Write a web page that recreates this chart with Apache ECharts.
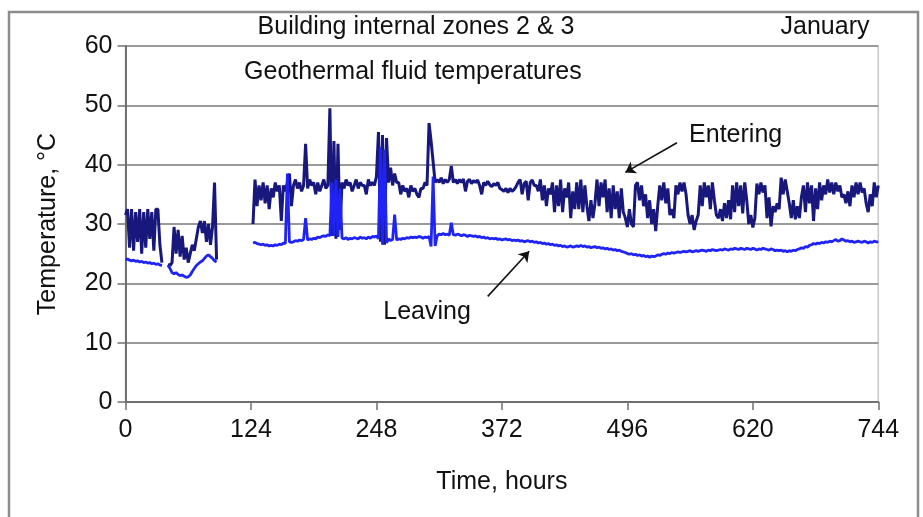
<!DOCTYPE html>
<html>
<head>
<meta charset="utf-8">
<script src="https://cdn.jsdelivr.net/npm/echarts@6/dist/echarts.min.js"></script>
<style>
  html, body { margin: 0; padding: 0; background: #fff; }
  #chart { width: 923px; height: 517px; }
</style>
</head>
<body>
<div id="chart"></div>
<script>
// Geothermal fluid temperatures, building internal zones 2 & 3, January (hourly log)
const HOUR_TICKS = [0, 124, 248, 372, 496, 620, 744];
const STEP_HOURS = 2;
const SEGMENT_START = [0, 42, 126];

// Segment 1: hours 0-36
const enteringA = [31.5, 32.5, 26.0, 32.5, 25.5, 32.0, 27.0, 32.5, 25.0, 32.0,
  26.0, 32.5, 27.5, 32.0, 25.5, 32.5, 32.5, 26.5, 23.5];
const leavingA = [24.0, 24.1, 23.9, 23.8, 23.9, 23.7, 23.8, 23.6, 23.7, 23.5,
  23.6, 23.4, 23.5, 23.3, 23.4, 23.2, 23.3, 23.1, 23.0];

// Segment 2: hours 42-90
const enteringB = [23.2, 23.0, 23.5, 29.5, 25.0, 29.0, 24.5, 28.0, 24.0, 26.0,
  23.5, 25.0, 26.5, 25.5, 27.5, 29.5, 30.5, 28.5, 30.5, 27.0,
  30.0, 26.5, 29.5, 37.0, 24.0];
const leavingB = [23.0, 22.5, 21.8, 21.6, 21.8, 21.5, 21.3, 21.4, 21.2, 21.0,
  21.1, 21.4, 22.0, 22.5, 23.0, 23.3, 23.6, 23.8, 24.2, 24.6,
  24.8, 24.5, 24.2, 23.8, 23.6];

// Segment 3: hours 126-744
const enteringC = [
  30.0, 37.5, 33.0, 36.5, 34.0, 37.0, 33.5, 36.5, 32.5, 36.0,
  34.5, 37.0, 35.5, 36.5, 30.5, 36.5, 35.5, 37.0, 38.5, 33.0,
  36.5, 37.5, 36.0, 37.0, 35.5, 36.5, 43.5, 36.0, 37.5, 36.5,
  37.0, 35.0, 37.0, 35.5, 36.5, 37.5, 36.0, 36.5, 49.5, 28.0,
  44.0, 27.5, 43.5, 29.0, 37.0, 36.0, 37.5, 36.5, 37.0, 35.5,
  36.5, 37.5, 36.0, 37.0, 36.5, 36.5, 35.0, 37.5, 36.5, 37.0,
  36.5, 38.0, 45.5, 27.0, 45.0, 26.5, 44.5, 37.0, 39.5, 36.5,
  38.5, 37.0, 37.0, 35.0, 36.5, 35.5, 36.0, 34.5, 36.5, 35.5,
  36.0, 35.0, 34.5, 36.0, 36.0, 37.0, 36.5, 47.0, 44.0, 40.5,
  37.0, 37.5, 37.0, 37.8, 36.8, 37.5, 37.0, 37.5, 39.8, 37.0,
  37.5, 36.8, 37.5, 37.0, 37.6, 35.5, 37.2, 37.5, 36.8, 37.3,
  37.0, 37.4, 36.5, 35.0, 37.0, 36.5, 37.2, 36.6, 36.3, 36.8,
  36.5, 37.0, 36.0, 35.8, 35.5, 36.0, 35.3, 36.0, 35.5, 35.8,
  36.3, 37.0, 37.5, 35.0, 36.8, 37.2, 34.0, 37.0, 37.4, 36.5,
  36.5, 35.5, 37.5, 34.0, 36.5, 33.0, 36.0, 35.0, 37.0, 32.0,
  36.5, 33.0, 37.5, 32.0, 36.0, 34.5, 37.0, 31.0, 35.5, 32.5,
  37.0, 32.5, 37.5, 32.0, 36.5, 33.0, 30.5, 34.0, 31.0, 33.5,
  37.5, 33.0, 37.0, 34.5, 37.5, 32.0, 36.0, 31.0, 36.5, 32.5,
  35.5, 31.0, 36.0, 32.0, 31.0, 29.5, 32.5, 30.0, 29.5, 36.5,
  37.0, 34.0, 36.5, 33.0, 35.0, 31.0, 34.0, 30.0, 32.5, 28.8,
  33.0, 36.5, 34.0, 37.0, 33.5, 36.0, 31.5, 32.5, 31.0, 36.5,
  35.0, 37.0, 35.5, 37.0, 35.0, 31.5, 30.0, 31.5, 29.0, 30.5,
  31.5, 36.5, 33.0, 37.0, 34.5, 36.5, 32.5, 37.0, 34.0, 31.5,
  31.0, 32.5, 30.5, 33.5, 31.0, 34.0, 30.8, 36.5, 32.0, 37.0,
  33.0, 36.5, 31.8, 37.0, 34.0, 30.0, 31.5, 29.4, 31.0, 36.8,
  35.0, 37.0, 35.3, 36.5, 31.0, 34.5, 29.6, 33.0, 32.0, 33.5,
  32.5, 37.8, 35.0, 37.5, 35.5, 33.5, 31.0, 34.0, 30.8, 33.0,
  31.0, 34.5, 36.5, 32.0, 37.0, 33.5, 36.5, 30.5, 36.0, 32.5,
  37.0, 34.0, 36.5, 35.0, 37.5, 35.3, 37.0, 35.0, 37.0, 35.5,
  36.5, 34.5, 35.0, 33.5, 35.5, 33.0, 36.5, 34.5, 37.0, 35.0,
  37.0, 35.3, 36.0, 33.5, 32.0, 35.0, 33.0, 37.0, 34.5, 36.5
];
const leavingC = [
  26.8, 26.9, 26.7, 26.6, 26.5, 26.6, 26.4, 26.5, 26.3, 26.4,
  26.3, 26.5, 26.4, 26.6, 26.5, 26.8, 26.7, 38.5, 27.0, 26.9,
  27.0, 27.2, 27.1, 27.3, 27.2, 27.4, 31.0, 27.3, 27.5, 27.4,
  27.6, 27.5, 27.8, 27.7, 27.9, 28.0, 27.9, 28.2, 28.0, 37.0,
  28.0, 37.5, 27.8, 36.0, 27.6, 27.5, 27.7, 27.4, 27.6, 27.5,
  27.7, 27.6, 27.5, 27.8, 27.6, 27.7, 27.5, 27.8, 27.6, 27.9,
  27.8, 28.0, 27.5, 43.0, 26.5, 42.5, 26.8, 27.5, 27.2, 27.4,
  31.6, 27.3, 27.5, 27.4, 27.6, 27.5, 27.7, 27.6, 27.8, 27.7,
  27.8, 27.7, 27.9, 27.8, 27.6, 27.8, 27.7, 27.9, 26.2, 38.0,
  26.3, 28.0, 28.3, 28.2, 28.4, 28.2, 28.3, 28.1, 30.2, 28.2,
  28.1, 28.3, 28.2, 28.0, 28.2, 28.1, 27.9, 28.1, 28.0, 27.9,
  28.0, 27.8, 27.9, 27.7, 27.8, 27.6, 27.7, 27.5, 27.6, 27.5,
  27.6, 27.4, 27.5, 27.3, 27.4, 27.5, 27.3, 27.4, 27.2, 27.3,
  27.2, 27.3, 27.1, 27.2, 27.0, 27.1, 27.2, 27.0, 27.1, 26.9,
  27.0, 26.8, 26.9, 26.7, 26.8, 26.6, 26.7, 26.5, 26.6, 26.4,
  26.5, 26.3, 26.4, 26.2, 26.3, 26.1, 26.2, 26.3, 26.1, 26.2,
  26.3, 26.2, 26.4, 26.2, 26.3, 26.1, 26.2, 26.0, 26.1, 26.2,
  26.0, 26.1, 25.9, 26.0, 25.8, 25.9, 25.7, 25.8, 25.6, 25.7,
  25.5, 25.6, 25.4, 25.3, 25.2, 25.0, 24.9, 25.0, 24.8, 24.9,
  24.7, 24.8, 24.6, 24.7, 24.5, 24.6, 24.4, 24.6, 24.5, 24.6,
  24.8, 24.7, 24.9, 25.0, 24.9, 25.1, 25.0, 25.2, 25.1, 25.2,
  25.3, 25.2, 25.3, 25.4, 25.3, 25.4, 25.5, 25.3, 25.4, 25.5,
  25.4, 25.5, 25.6, 25.5, 25.4, 25.6, 25.5, 25.7, 25.6, 25.5,
  25.6, 25.7, 25.6, 25.8, 25.7, 25.6, 25.8, 25.7, 25.9, 25.8,
  25.7, 25.9, 25.8, 25.7, 25.9, 25.8, 25.7, 25.9, 25.8, 25.6,
  25.8, 25.7, 25.9, 25.8, 25.7, 25.6, 25.8, 25.7, 25.5, 25.6,
  25.5, 25.6, 25.4, 25.5, 25.3, 25.5, 25.4, 25.6, 25.5, 25.7,
  25.8, 26.0, 25.9, 26.2, 26.1, 26.4, 26.5, 26.7, 26.6, 26.8,
  26.7, 26.9, 26.8, 27.0, 26.9, 27.1, 27.0, 27.2, 27.4, 27.1,
  27.2, 27.5, 27.3, 27.1, 27.2, 27.0, 27.1, 26.9, 27.0, 27.1,
  27.0, 26.9, 27.1, 27.0, 26.8, 27.0, 26.9, 27.1, 27.0, 27.0
];

// Annotation anchors, in [hour, °C]
const ENTERING_ARROW = [[545, 43.7], [494, 38.7]];
const LEAVING_ARROW = [[358, 17.8], [399, 25.4]];
const ENTERING_LABEL = [603, 45.0];
const LEAVING_LABEL = [298, 15.1];
const SUBTITLE_POS = [284, 55.6];

const FONT = "'Liberation Sans', Arial, sans-serif";

// Join the logged segments into one series, breaking the line across logging gaps
function buildSeries(segments) {
  const out = [];
  segments.forEach((vals, s) => {
    if (s > 0) out.push([SEGMENT_START[s] - 1, '-']);
    vals.forEach((v, i) => out.push([SEGMENT_START[s] + i * STEP_HOURS, v]));
  });
  return out;
}

const entering = buildSeries([enteringA, enteringB, enteringC]);
const leaving = buildSeries([leavingA, leavingB, leavingC]);

const chart = echarts.init(document.getElementById('chart'), null, { renderer: 'canvas' });

const labelText = (pos, text, size) => ({
  coord: pos, symbol: 'circle', symbolSize: 0,
  label: { show: true, position: 'inside', formatter: text, color: '#111', fontSize: size, fontFamily: FONT }
});

chart.setOption({
  animation: false,
  backgroundColor: '#fff',
  textStyle: { fontFamily: FONT },
  grid: { left: 125.5, right: 44.7, top: 46, bottom: 115, show: true, borderColor: '#c8c8c8', borderWidth: 1.5 },
  graphic: [
    { type: 'rect', shape: { x: 9, y: 12, width: 909, height: 530 },
      style: { fill: 'none', stroke: '#8c8c8c', lineWidth: 2.5 }, silent: true },
    { type: 'text', x: 416, y: 27,
      style: { text: 'Building internal zones 2 & 3', fontSize: 25, fontFamily: FONT, fill: '#111', textAlign: 'center', textVerticalAlign: 'middle' } },
    { type: 'text', x: 825, y: 27,
      style: { text: 'January', fontSize: 25, fontFamily: FONT, fill: '#111', textAlign: 'center', textVerticalAlign: 'middle' } }
  ],
  xAxis: {
    type: 'value', min: 0, max: 744, interval: 124,
    name: 'Time, hours', nameLocation: 'middle', nameGap: 68,
    nameTextStyle: { fontSize: 25, color: '#111', fontFamily: FONT },
    axisLine: { show: true, onZero: false, lineStyle: { color: '#707070', width: 2 } },
    axisTick: { show: true, length: 8, lineStyle: { color: '#707070', width: 1.5 } },
    axisLabel: { fontSize: 25, color: '#111', margin: 16, fontFamily: FONT,
      formatter: v => HOUR_TICKS.includes(v) ? String(v) : '' },
    splitLine: { show: false }
  },
  yAxis: {
    type: 'value', min: 0, max: 60, interval: 10,
    name: 'Temperature, °C', nameLocation: 'middle', nameGap: 65, nameRotate: 90,
    nameTextStyle: { fontSize: 25, color: '#111', fontFamily: FONT },
    axisLine: { show: true, lineStyle: { color: '#707070', width: 2 } },
    axisTick: { show: true, length: 8, lineStyle: { color: '#707070', width: 1.5 } },
    axisLabel: { fontSize: 25, color: '#111', margin: 13, fontFamily: FONT },
    splitLine: { show: true, lineStyle: { color: '#9a9a9a', width: 2 } }
  },
  series: [
    {
      name: 'Entering', type: 'line', data: entering, showSymbol: false,
      connectNulls: false, lineStyle: { color: '#17177c', width: 3, join: 'bevel' }, z: 2,
      markPoint: { silent: true, data: [
        labelText(ENTERING_LABEL, 'Entering', 25),
        labelText(SUBTITLE_POS, 'Geothermal fluid temperatures', 25)
      ] }
    },
    {
      name: 'Leaving', type: 'line', data: leaving, showSymbol: false,
      connectNulls: false, lineStyle: { color: '#1f24f5', width: 2.8 }, z: 3,
      markPoint: { silent: true, data: [ labelText(LEAVING_LABEL, 'Leaving', 25) ] },
      markLine: {
        silent: true, symbol: ['none', 'arrow'], symbolSize: 10,
        lineStyle: { color: '#111', width: 1.6, type: 'solid' },
        label: { show: false },
        data: [
          [{ coord: ENTERING_ARROW[0] }, { coord: ENTERING_ARROW[1] }],
          [{ coord: LEAVING_ARROW[0] }, { coord: LEAVING_ARROW[1] }]
        ]
      }
    }
  ]
});
</script>
</body>
</html>
